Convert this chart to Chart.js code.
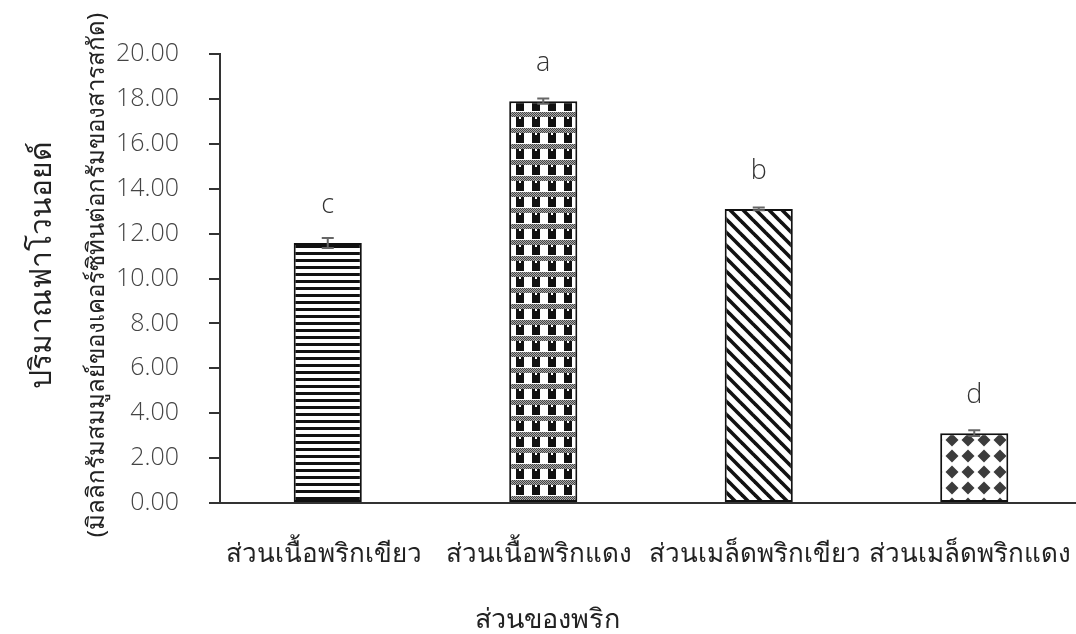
<!DOCTYPE html>
<html>
<head>
<meta charset="utf-8">
<script src="https://cdn.jsdelivr.net/npm/chart.js@4.4.1/dist/chart.umd.min.js"></script>
<style>
  html, body { margin: 0; padding: 0; background: #fff; overflow: hidden; }
  #wrap { width: 1082px; height: 634px; }
</style>
</head>
<body>
<div id="wrap"><canvas id="c" width="1082" height="634"></canvas></div>
<script>
// Flavonoid content by chili part
const categories = ['ส่วนเนื้อพริกเขียว', 'ส่วนเนื้อพริกแดง', 'ส่วนเมล็ดพริกเขียว', 'ส่วนเมล็ดพริกแดง'];
const flavonoid = [11.58, 17.90, 13.10, 3.11];
const stdError = [0.22, 0.12, 0.06, 0.13];
const groupLetters = ['c', 'a', 'b', 'd'];
const yTickValues = [0, 2, 4, 6, 8, 10, 12, 14, 16, 18, 20];

const xTitle = 'ส่วนของพริก';
const yTitleLines = ['ปริมาณฟาโวนอยด์', '(มิลลิกรัมสมมูลย์ของเคอร์ซิทินต่อกรัมของสารสกัด)'];

const THAI_FONT = '"Noto Sans", "DejaVu Sans", sans-serif';
const NUM_FONT = '"Open Sans", "Noto Sans", sans-serif';

// ---- fill patterns ----
function tile(w, h, draw) {
  const cv = document.createElement('canvas');
  cv.width = w; cv.height = h;
  const g = cv.getContext('2d');
  g.fillStyle = '#fff';
  g.fillRect(0, 0, w, h);
  draw(g, w, h);
  return document.createElement('canvas').getContext('2d').createPattern(cv, 'repeat');
}
const patStripes = tile(8, 7, (g) => {
  g.fillStyle = '#111';
  g.fillRect(0, 0, 8, 3);
});
const patCheck = tile(16, 16, (g) => {
  // grey dotted band between rows of dark blocks
  for (let x = 0; x < 16; x++) {
    for (let y = 0; y < 5; y++) {
      g.fillStyle = ((x + y) % 2 === 0) ? '#444' : '#aaa';
      g.fillRect(x, y, 1, 1);
    }
  }
  g.fillStyle = '#111';
  g.fillRect(4, 5, 8, 10);
  g.fillStyle = '#fff';
  g.fillRect(7, 5, 2, 2);
});
const patDiag = tile(13, 13, (g) => {
  g.strokeStyle = '#111';
  g.lineWidth = 3.6;
  for (let k = -2; k <= 2; k++) {
    g.beginPath();
    g.moveTo(k * 13 - 2, -2);
    g.lineTo(k * 13 + 15, 15);
    g.stroke();
  }
});
const patDiamond = tile(16, 16, (g) => {
  g.fillStyle = '#3c3c3c';
  const d = (cx, cy, r) => {
    g.beginPath();
    g.moveTo(cx, cy - r); g.lineTo(cx + r, cy); g.lineTo(cx, cy + r); g.lineTo(cx - r, cy);
    g.closePath(); g.fill();
  };
  d(8, 8, 6.5);
});
const fills = [patStripes, patCheck, patDiag, patDiamond];

// ---- error bars, group letters and axis titles ----
const annotate = {
  id: 'annotate',
  afterDatasetsDraw(chart) {
    const { ctx, scales: { x, y } } = chart;
    ctx.save();
    flavonoid.forEach((v, i) => {
      const cx = x.getPixelForValue(i);
      const hi = y.getPixelForValue(v + stdError[i]);
      const lo = y.getPixelForValue(v - stdError[i]);
      ctx.strokeStyle = '#666';
      ctx.lineWidth = 2;
      ctx.beginPath();
      ctx.moveTo(cx, hi); ctx.lineTo(cx, lo);
      ctx.moveTo(cx - 6, hi); ctx.lineTo(cx + 6, hi);
      ctx.moveTo(cx - 6, lo); ctx.lineTo(cx + 6, lo);
      ctx.stroke();
      ctx.fillStyle = '#333';
      ctx.font = '300 27px ' + NUM_FONT;
      ctx.textAlign = 'center';
      ctx.textBaseline = 'middle';
      ctx.fillText(groupLetters[i], cx, y.getPixelForValue(v) - 38);
    });
    ctx.fillStyle = '#222';
    ctx.textAlign = 'center';
    ctx.textBaseline = 'middle';
    ctx.font = '27px ' + THAI_FONT;
    ctx.fillText(xTitle, 547, 620);
    const yc = [265, 275];
    const xc = [42, 97];
    const sizes = [30, 24];
    yTitleLines.forEach((t, k) => {
      ctx.save();
      ctx.translate(xc[k], yc[k]);
      ctx.rotate(-Math.PI / 2);
      ctx.font = sizes[k] + 'px ' + THAI_FONT;
      ctx.fillText(t, 0, 0);
      ctx.restore();
    });
    ctx.restore();
  }
};

new Chart(document.getElementById('c'), {
  type: 'bar',
  data: {
    labels: categories,
    datasets: [{
      data: flavonoid,
      backgroundColor: fills,
      borderColor: '#111',
      borderWidth: 2,
      borderSkipped: false,
      barPercentage: 0.316,
      categoryPercentage: 1
    }]
  },
  options: {
    responsive: false,
    animation: false,
    devicePixelRatio: 1,
    layout: { padding: { top: 54, left: 0, right: 0, bottom: 0 } },
    plugins: { legend: { display: false }, tooltip: { enabled: false } },
    scales: {
      x: {
        offset: true,
        grid: { display: false, drawTicks: false },
        border: { display: true, color: '#333', width: 2 },
        ticks: {
          autoSkip: false, maxRotation: 0, minRotation: 0,
          padding: 36, labelOffset: -4,
          color: '#222',
          font: { family: THAI_FONT, size: 26 }
        },
        afterFit(s) { s.height = 131; s.paddingLeft = 0; s.paddingRight = 0; }
      },
      y: {
        min: 0, max: 20,
        afterBuildTicks(s) { s.ticks = yTickValues.map(v => ({ value: v })); },
        grid: { drawOnChartArea: false, drawTicks: true, tickLength: 11, color: '#333', lineWidth: 2 },
        border: { display: true, color: '#333', width: 2 },
        ticks: {
          padding: 30,
          color: '#444',
          font: { family: NUM_FONT, size: 25, weight: 300 },
          callback: (v) => Number(v).toFixed(2)
        },
        afterFit(s) { s.width = 220; s.paddingTop = 0; s.paddingBottom = 0; }
      }
    }
  },
  plugins: [annotate]
});
</script>
</body>
</html>
